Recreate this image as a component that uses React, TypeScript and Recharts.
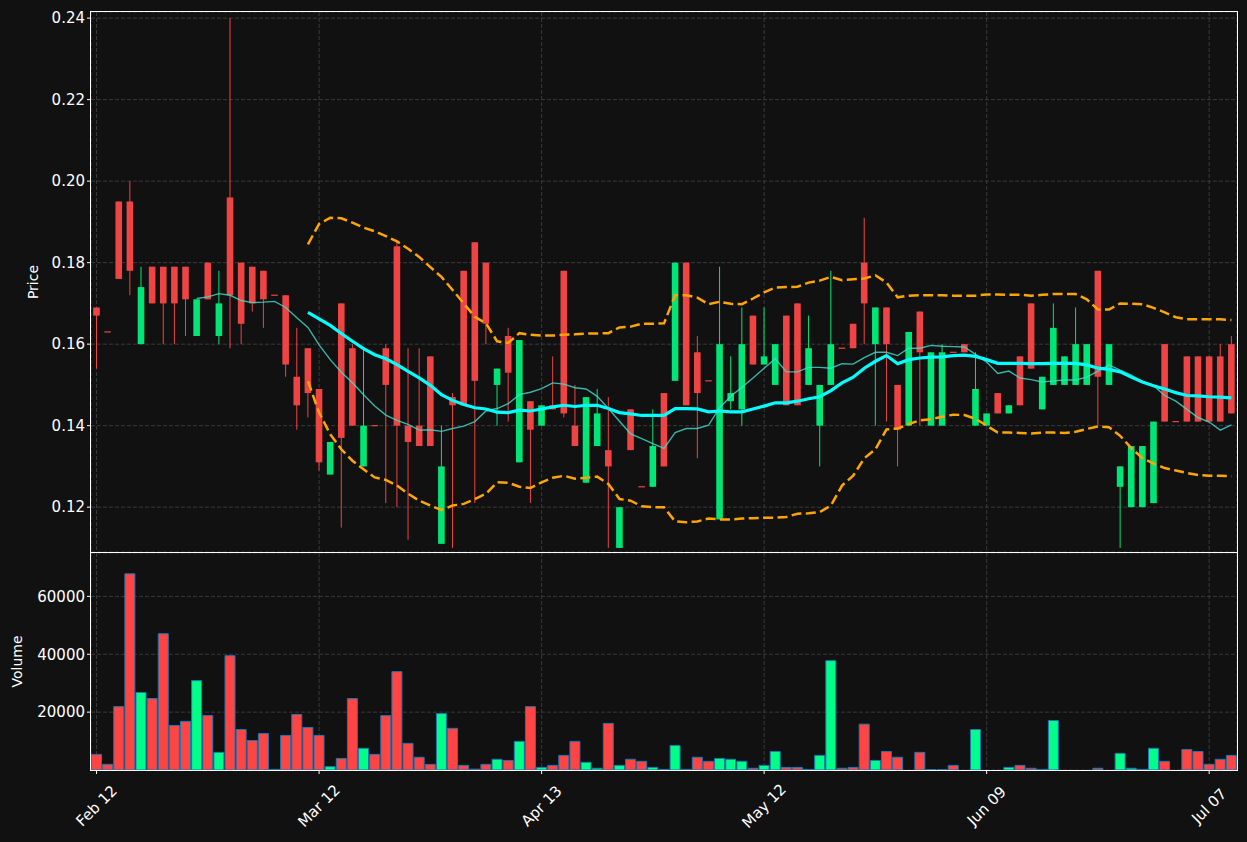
import { ComposedChart, Bar, Line, XAxis, YAxis, CartesianGrid, Cell } from "recharts";

// x ticks every 20 bars
const tickLabels = ["Feb 12", "Mar 12", "Apr 13", "May 12", "Jun 09", "Jul 07"];
const TICK_EVERY = 20;

const priceTicks = [0.12, 0.14, 0.16, 0.18, 0.2, 0.22, 0.24];
const volumeTicks = [20000, 40000, 60000];

const opens = [
  0.169, 0.163, 0.195, 0.195, 0.16, 0.179, 0.179, 0.179, 0.179, 0.162,
  0.18, 0.162, 0.196, 0.18, 0.179, 0.178, 0.172, 0.172, 0.152, 0.159,
  0.149, 0.128, 0.17, 0.159, 0.13, 0.14, 0.159, 0.184, 0.14, 0.14,
  0.157, 0.111, 0.147, 0.178, 0.185, 0.18, 0.15, 0.162, 0.131, 0.146,
  0.14, 0.145, 0.178, 0.14, 0.126, 0.135, 0.134, 0.11, 0.144, 0.125,
  0.125, 0.148, 0.151, 0.18, 0.158, 0.151, 0.117, 0.146, 0.144, 0.167,
  0.155, 0.15, 0.167, 0.17, 0.15, 0.14, 0.15, 0.159, 0.165, 0.18,
  0.16, 0.169, 0.15, 0.14, 0.168, 0.14, 0.14, 0.158, 0.16, 0.14,
  0.14, 0.148, 0.143, 0.157, 0.17, 0.144, 0.15, 0.15, 0.15, 0.15,
  0.178, 0.15, 0.125, 0.12, 0.12, 0.121, 0.16, 0.141, 0.157, 0.157,
  0.157, 0.157, 0.16,
];

const highs = [
  0.169, 0.163, 0.195, 0.2, 0.179, 0.179, 0.179, 0.179, 0.179, 0.171,
  0.18, 0.178, 0.24, 0.18, 0.179, 0.178, 0.172, 0.172, 0.164, 0.159,
  0.149, 0.136, 0.17, 0.16, 0.159, 0.14, 0.16, 0.185, 0.159, 0.159,
  0.157, 0.14, 0.148, 0.178, 0.185, 0.18, 0.154, 0.164, 0.161, 0.146,
  0.145, 0.157, 0.178, 0.15, 0.147, 0.149, 0.147, 0.12, 0.144, 0.125,
  0.144, 0.148, 0.18, 0.18, 0.162, 0.151, 0.179, 0.157, 0.169, 0.167,
  0.169, 0.16, 0.167, 0.17, 0.167, 0.15, 0.178, 0.159, 0.165, 0.191,
  0.169, 0.169, 0.15, 0.163, 0.168, 0.158, 0.16, 0.158, 0.16, 0.158,
  0.143, 0.148, 0.145, 0.157, 0.17, 0.152, 0.17, 0.157, 0.169, 0.16,
  0.178, 0.16, 0.13, 0.135, 0.135, 0.141, 0.16, 0.141, 0.157, 0.157,
  0.157, 0.16, 0.162,
];

const lows = [
  0.154, 0.163, 0.176, 0.172, 0.16, 0.17, 0.16, 0.16, 0.162, 0.162,
  0.171, 0.16, 0.159, 0.16, 0.168, 0.164, 0.172, 0.152, 0.139, 0.142,
  0.129, 0.128, 0.115, 0.14, 0.13, 0.14, 0.121, 0.12, 0.112, 0.135,
  0.135, 0.111, 0.11, 0.145, 0.121, 0.16, 0.14, 0.141, 0.131, 0.121,
  0.14, 0.144, 0.142, 0.135, 0.126, 0.135, 0.11, 0.11, 0.134, 0.125,
  0.125, 0.13, 0.151, 0.145, 0.132, 0.151, 0.117, 0.144, 0.14, 0.155,
  0.155, 0.15, 0.145, 0.145, 0.15, 0.13, 0.15, 0.159, 0.159, 0.16,
  0.14, 0.141, 0.13, 0.14, 0.14, 0.14, 0.14, 0.158, 0.158, 0.14,
  0.14, 0.143, 0.143, 0.145, 0.154, 0.144, 0.15, 0.15, 0.15, 0.15,
  0.14, 0.15, 0.11, 0.12, 0.12, 0.121, 0.141, 0.141, 0.141, 0.141,
  0.141, 0.141, 0.143,
];

const closes = [
  0.167, 0.163, 0.176, 0.178, 0.174, 0.17, 0.17, 0.17, 0.171, 0.171,
  0.171, 0.17, 0.172, 0.165, 0.17, 0.171, 0.172, 0.155, 0.145, 0.148,
  0.131, 0.136, 0.137, 0.14, 0.14, 0.14, 0.15, 0.14, 0.136, 0.135,
  0.135, 0.13, 0.145, 0.145, 0.151, 0.165, 0.154, 0.153, 0.161, 0.139,
  0.145, 0.144, 0.143, 0.135, 0.147, 0.143, 0.13, 0.12, 0.134, 0.125,
  0.135, 0.13, 0.18, 0.145, 0.148, 0.151, 0.16, 0.148, 0.16, 0.155,
  0.157, 0.16, 0.145, 0.145, 0.159, 0.15, 0.16, 0.159, 0.159, 0.17,
  0.169, 0.16, 0.139, 0.163, 0.158, 0.158, 0.158, 0.158, 0.158, 0.149,
  0.143, 0.143, 0.145, 0.145, 0.154, 0.152, 0.164, 0.157, 0.16, 0.16,
  0.152, 0.16, 0.13, 0.135, 0.135, 0.141, 0.141, 0.141, 0.141, 0.141,
  0.141, 0.141, 0.143,
];

const volumes = [
  5400, 1950, 21900, 67800, 26800, 24700, 47100, 15400, 16800, 30900,
  18800, 6100, 39500, 14000, 10200, 12600, 200, 11950, 19200, 14700,
  11950, 1150, 4000, 24700, 7500, 5400, 18800, 34000, 9200, 4400,
  1950, 19500, 14400, 1600, 300, 1950, 3700, 3300, 9900, 21900,
  900, 1600, 5050, 9900, 2650, 600, 16100, 1600, 3700, 3000,
  900, 200, 8500, 200, 4400, 3000, 4000, 3700, 3000, 600,
  1600, 6400, 900, 900, 200, 5050, 37800, 600, 900, 15850,
  3300, 6400, 4400, 0, 6100, 150, 150, 1600, 0, 14000,
  0, 0, 900, 1600, 600, 200, 17100, 0, 0, 0,
  600, 0, 5750, 600, 200, 7500, 3000, 0, 7100, 6400,
  1950, 3700, 5050,
];

// thin moving average, starts at bar 9
const SMA_FAST_START = 9;
const smaFast = [
  0.1712, 0.1716, 0.1724, 0.172, 0.1707, 0.1702, 0.1703, 0.1705, 0.169, 0.1665,
  0.1641, 0.1598, 0.1562, 0.1531, 0.1505, 0.1476, 0.1448, 0.1426, 0.1413, 0.1403,
  0.1389, 0.139, 0.1386, 0.1393, 0.1399, 0.141, 0.1436, 0.1442, 0.1454, 0.1476,
  0.1482, 0.1491, 0.1505, 0.1502, 0.1493, 0.149, 0.1472, 0.1442, 0.1411, 0.138,
  0.1368, 0.1356, 0.1344, 0.1383, 0.1393, 0.1393, 0.1401, 0.1444, 0.1472, 0.1494,
  0.1517, 0.1541, 0.1564, 0.1532, 0.1532, 0.1543, 0.1543, 0.1541, 0.1552, 0.1551,
  0.1567, 0.158, 0.158, 0.1572, 0.159, 0.159, 0.1597, 0.1595, 0.1594, 0.1593,
  0.1575, 0.1556, 0.1528, 0.1534, 0.1517, 0.1513, 0.1507, 0.151, 0.1512, 0.1512,
  0.1519, 0.1534, 0.1549, 0.1536, 0.1524, 0.1508, 0.1498, 0.1474, 0.146, 0.144,
  0.142, 0.1409, 0.1389, 0.1402,
];

// thick moving average and bands, start at bar 19
const SMA_SLOW_START = 19;
const smaSlow = [
  0.1678, 0.1662, 0.1646, 0.1626, 0.1607, 0.1589, 0.1574, 0.1564, 0.155, 0.1533,
  0.1517, 0.1499, 0.1476, 0.1462, 0.1452, 0.1444, 0.1441, 0.1433, 0.1432, 0.1438,
  0.1436, 0.1441, 0.1446, 0.145, 0.1447, 0.145, 0.145, 0.1442, 0.1432, 0.1429,
  0.1425, 0.1425, 0.1425, 0.1442, 0.1442, 0.1441, 0.1434, 0.1436, 0.1434, 0.1434,
  0.1441, 0.1448, 0.1456, 0.1456, 0.146, 0.1466, 0.1471, 0.1486, 0.1505, 0.1519,
  0.1541, 0.1558, 0.1572, 0.1552, 0.1562, 0.1566, 0.1568, 0.1569, 0.1572, 0.1573,
  0.157, 0.1562, 0.1553, 0.1553, 0.1553, 0.1552, 0.1552, 0.1553, 0.1553, 0.1553,
  0.1549, 0.1541, 0.1538, 0.1532, 0.1519, 0.1507, 0.1498, 0.149, 0.1481, 0.1474,
  0.1473, 0.1471, 0.147, 0.1468,
];

const bandUpper = [
  0.1845, 0.1895, 0.191, 0.1909, 0.1898, 0.1886, 0.1877, 0.1865, 0.1852, 0.1834,
  0.1814, 0.1789, 0.1765, 0.1733, 0.17, 0.1667, 0.1651, 0.1607, 0.1603, 0.1627,
  0.1623, 0.1621, 0.1621, 0.1623, 0.1624, 0.1626, 0.1626, 0.1627, 0.1641, 0.1643,
  0.165, 0.165, 0.1651, 0.172, 0.172, 0.1714, 0.1698, 0.1704, 0.1699, 0.1698,
  0.1712, 0.1727, 0.1739, 0.174, 0.1741, 0.1751, 0.1756, 0.1765, 0.1757, 0.1759,
  0.1761, 0.1769, 0.1751, 0.1715, 0.1719, 0.172, 0.172, 0.172, 0.1719, 0.1719,
  0.1719, 0.1722, 0.1722, 0.1721, 0.1721, 0.1719, 0.1721, 0.1723, 0.1723, 0.1723,
  0.171, 0.1685, 0.1685, 0.17, 0.1699, 0.1698, 0.1689, 0.1678, 0.1666, 0.1661,
  0.1661, 0.1661, 0.1661, 0.1659,
];

const bandLower = [
  0.1509, 0.1432, 0.1379, 0.1342, 0.1314, 0.1293, 0.1273, 0.1267, 0.1253, 0.1233,
  0.1216, 0.1204, 0.1193, 0.1204, 0.1208, 0.122, 0.1233, 0.1261, 0.126, 0.125,
  0.1247, 0.1261, 0.1272, 0.1277, 0.127, 0.1272, 0.1275, 0.1257, 0.122, 0.1216,
  0.1202, 0.12, 0.12, 0.1165, 0.1163, 0.1165, 0.1172, 0.117, 0.117, 0.1172,
  0.1173, 0.1174, 0.1174, 0.1176, 0.1184, 0.1185, 0.1188, 0.1204, 0.1253, 0.1277,
  0.132, 0.1342, 0.1391, 0.1393, 0.1404, 0.1413, 0.1416, 0.1422, 0.1427, 0.1426,
  0.1417, 0.14, 0.1383, 0.1383, 0.1382, 0.1381, 0.1383, 0.1383, 0.1382, 0.1385,
  0.1392, 0.1398, 0.1396, 0.1375, 0.1345, 0.132, 0.1307, 0.1296, 0.129, 0.1284,
  0.1279, 0.1277, 0.1277, 0.1276,
];

const BG = "#111111";
const UP = "#00e676";
const DOWN = "#ef4444";
const VOL_UP = "#00ff88";
const VOL_DOWN = "#ff4444";
const GRID = "#3a3a3a";
const FONT = "DejaVu Sans";
const TICK_FONT = 15;

const W = 1247;
const PLOT_LEFT = 91;
const PLOT_RIGHT = 1237;
const PRICE_TOP = 12;
const PRICE_BOTTOM = 552;
const VOL_BOTTOM = 770;

const rows = opens.map((open, i) => ({
  i,
  open,
  high: highs[i],
  low: lows[i],
  close: closes[i],
  volume: volumes[i],
  smaFast: i >= SMA_FAST_START ? smaFast[i - SMA_FAST_START] : null,
  smaSlow: i >= SMA_SLOW_START ? smaSlow[i - SMA_SLOW_START] : null,
  bandUpper: i >= SMA_SLOW_START ? bandUpper[i - SMA_SLOW_START] : null,
  bandLower: i >= SMA_SLOW_START ? bandLower[i - SMA_SLOW_START] : null,
}));

// flat candles get a tiny range so the bar still renders
const candleRange = (d: any) =>
  d.high === d.low ? [d.low - 0.0001, d.high + 0.0001] : [d.low, d.high];

function Candle(props: any) {
  const { x, width, payload } = props;
  const y = Math.min(props.y, props.y + props.height);
  const h = Math.abs(props.height);
  const { open, close, high, low } = payload;
  const color = close > open ? UP : DOWN;
  const cx = x + width / 2;
  const bw = width * 0.6;
  if (high === low) {
    const yy = y + h / 2;
    return <line x1={cx - bw / 2} x2={cx + bw / 2} y1={yy} y2={yy} stroke={color} strokeWidth={1.2} />;
  }
  const k = h / (high - low);
  const top = y + (high - Math.max(open, close)) * k;
  const bot = y + (high - Math.min(open, close)) * k;
  return (
    <g>
      <line x1={cx} x2={cx} y1={y} y2={y + h} stroke={color} strokeWidth={1} />
      <rect x={cx - bw / 2} y={top} width={bw} height={Math.max(bot - top, 1.2)} fill={color} />
    </g>
  );
}

function DateTick(props: any) {
  const { x, y, payload } = props;
  const label = tickLabels[Math.round(payload.value / TICK_EVERY)] ?? "";
  const cy = y + 30;
  return (
    <text
      x={x}
      y={cy}
      transform={`rotate(-45 ${x} ${cy})`}
      textAnchor="middle"
      dominantBaseline="central"
      fill="#ffffff"
      fontSize={TICK_FONT}
      fontFamily={FONT}
    >
      {label}
    </text>
  );
}

const axisLabel = (text: string, offsetX: number) => (props: any) => {
  const { viewBox } = props;
  const cx = viewBox.x + offsetX;
  const cy = viewBox.y + viewBox.height / 2;
  return (
    <text
      x={cx}
      y={cy}
      transform={`rotate(-90 ${cx} ${cy})`}
      textAnchor="middle"
      dominantBaseline="central"
      fill="#ffffff"
      fontSize={14}
      fontFamily={FONT}
    >
      {text}
    </text>
  );
};

const tickStyle = { fill: "#ffffff", fontSize: TICK_FONT, fontFamily: FONT };

export default function App() {
  const volHeight = 842 - PRICE_BOTTOM - 1;
  return (
    <div style={{ position: "absolute", left: 0, top: 0, width: W, height: 842, background: BG, overflow: "hidden" }}>
      <div style={{ position: "absolute", left: 0, top: 0 }}>
        <ComposedChart
          width={W}
          height={PRICE_BOTTOM + 1}
          data={rows}
          margin={{ top: PRICE_TOP, right: W - PLOT_RIGHT, bottom: 1, left: 0 }}
          barCategoryGap={0}
        >
          <CartesianGrid stroke={GRID} strokeDasharray="4 2" />
          <XAxis dataKey="i" hide interval={TICK_EVERY - 1} />
          <YAxis
            domain={[0.109, 0.2415]}
            ticks={priceTicks}
            allowDataOverflow
            width={PLOT_LEFT}
            tickFormatter={(v: number) => v.toFixed(2)}
            tick={tickStyle}
            tickSize={4}
            tickLine={{ stroke: "#ffffff" }}
            axisLine={false}
            label={axisLabel("Price", 33)}
          />
          <Bar dataKey={candleRange} shape={Candle} isAnimationActive={false} />
          <Line type="linear" dataKey="smaFast" stroke="#40e0d0" strokeOpacity={0.8} strokeWidth={1.4} dot={false} isAnimationActive={false} />
          <Line type="linear" dataKey="smaSlow" stroke="#00ffff" strokeWidth={3.2} dot={false} isAnimationActive={false} />
          <Line type="linear" dataKey="bandUpper" stroke="#ffa500" strokeWidth={2.5} strokeDasharray="10 4.4" dot={false} isAnimationActive={false} />
          <Line type="linear" dataKey="bandLower" stroke="#ffa500" strokeWidth={2.5} strokeDasharray="10 4.4" dot={false} isAnimationActive={false} />
        </ComposedChart>
      </div>
      <div style={{ position: "absolute", left: 0, top: PRICE_BOTTOM + 1 }}>
        <ComposedChart
          width={W}
          height={volHeight}
          data={rows}
          margin={{ top: 0, right: W - PLOT_RIGHT, bottom: 0, left: 0 }}
          barCategoryGap={0.5}
        >
          <CartesianGrid stroke={GRID} strokeDasharray="4 2" />
          <XAxis
            dataKey="i"
            interval={TICK_EVERY - 1}
            height={volHeight - (VOL_BOTTOM - PRICE_BOTTOM - 1)}
            tick={<DateTick />}
            tickSize={4}
            tickLine={{ stroke: "#ffffff" }}
            axisLine={false}
          />
          <YAxis
            domain={[0, 75000]}
            ticks={volumeTicks}
            allowDataOverflow
            width={PLOT_LEFT}
            tick={tickStyle}
            tickSize={4}
            tickLine={{ stroke: "#ffffff" }}
            axisLine={false}
            label={axisLabel("Volume", 17)}
          />
          <Bar dataKey="volume" stroke="#1f77b4" strokeWidth={1} isAnimationActive={false}>
            {rows.map((d) => (
              <Cell key={d.i} fill={d.close > d.open ? VOL_UP : VOL_DOWN} />
            ))}
          </Bar>
        </ComposedChart>
      </div>
      {/* panel frames */}
      <div
        style={{
          position: "absolute",
          left: PLOT_LEFT - 1,
          top: PRICE_TOP - 1,
          width: PLOT_RIGHT - PLOT_LEFT,
          height: PRICE_BOTTOM - PRICE_TOP,
          border: "1px solid #ffffff",
          pointerEvents: "none",
        }}
      />
      <div
        style={{
          position: "absolute",
          left: PLOT_LEFT - 1,
          top: PRICE_BOTTOM,
          width: PLOT_RIGHT - PLOT_LEFT,
          height: VOL_BOTTOM - PRICE_BOTTOM - 1,
          border: "1px solid #ffffff",
          pointerEvents: "none",
        }}
      />
    </div>
  );
}
